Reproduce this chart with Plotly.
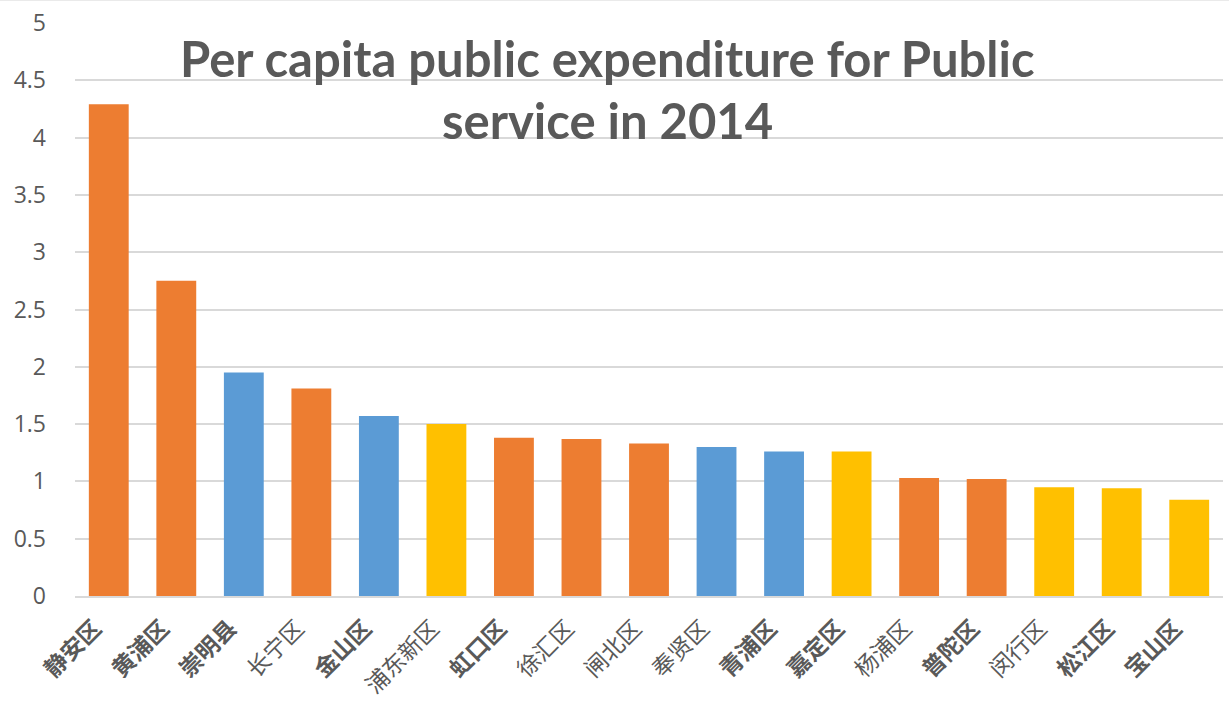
import plotly.graph_objects as go

# Per-capita public-service expenditure by Shanghai district, 2014
districts = ["静安区", "黄浦区", "崇明县", "长宁区", "金山区", "浦东新区", "虹口区", "徐汇区",
             "闸北区", "奉贤区", "青浦区", "嘉定区", "杨浦区", "普陀区", "闵行区", "松江区", "宝山区"]
values = [4.29, 2.75, 1.95, 1.81, 1.57, 1.50, 1.38, 1.37,
          1.33, 1.30, 1.26, 1.26, 1.03, 1.02, 0.95, 0.94, 0.84]
zones = ["中心城区", "中心城区", "远郊", "中心城区", "远郊", "近郊", "中心城区", "中心城区",
         "中心城区", "远郊", "远郊", "近郊", "中心城区", "中心城区", "近郊", "近郊", "近郊"]
heavy_labels = ["静安区", "黄浦区", "崇明县", "金山区", "虹口区", "青浦区", "嘉定区",
                "普陀区", "松江区", "宝山区"]
y_ticks = [0, 0.5, 1, 1.5, 2, 2.5, 3, 3.5, 4, 4.5, 5]
title_lines = ["Per capita public expenditure for Public", "service in 2014"]

zone_colors = {"中心城区": "#ED7D31", "远郊": "#5B9BD5", "近郊": "#FFC000"}
bar_colors = [zone_colors[z] for z in zones]

tick_text = [f"<b>{d}</b>" if d in heavy_labels else d for d in districts]

fig = go.Figure(
    go.Bar(
        x=districts,
        y=values,
        marker=dict(color=bar_colors, line=dict(width=0)),
        showlegend=False,
    )
)

fig.update_layout(
    width=1229,
    height=707,
    margin=dict(l=75, r=6, t=19, b=111),
    paper_bgcolor="white",
    plot_bgcolor="white",
    bargap=0.41,
    xaxis=dict(
        tickmode="array",
        tickvals=districts,
        ticktext=tick_text,
        tickangle=-45,
        tickfont=dict(family="Noto Sans CJK SC", size=23, color="#595959"),
        ticklabelstandoff=8,
        ticklabelshift=-14,
        showline=True,
        linecolor="#D9D9D9",
        linewidth=1.5,
        ticks="",
        showgrid=False,
    ),
    yaxis=dict(
        range=[0, 5],
        tickmode="array",
        tickvals=y_ticks,
        ticktext=[f"{v:g}" for v in y_ticks],
        tickfont=dict(family="Open Sans", size=23, color="#595959"),
        showgrid=True,
        gridcolor="#D9D9D9",
        gridwidth=1.5,
        zeroline=False,
        ticks="",
        ticklabelstandoff=28,
    ),
)

# thin frame line along the top edge of the chart area
fig.add_shape(
    type="line",
    xref="paper",
    yref="paper",
    x0=-0.07,
    x1=1.006,
    y0=1.04,
    y1=1.04,
    line=dict(color="#E3E3E3", width=1.5),
)

for i, line in enumerate(title_lines):
    fig.add_annotation(
        text=f"<b>{line}</b>",
        xref="paper",
        yref="paper",
        x=0.464,
        y=[0.939, 0.83][i],
        xanchor="center",
        yanchor="middle",
        showarrow=False,
        font=dict(family="Lato", size=49, color="#595959"),
    )

fig.write_html("out.html")
